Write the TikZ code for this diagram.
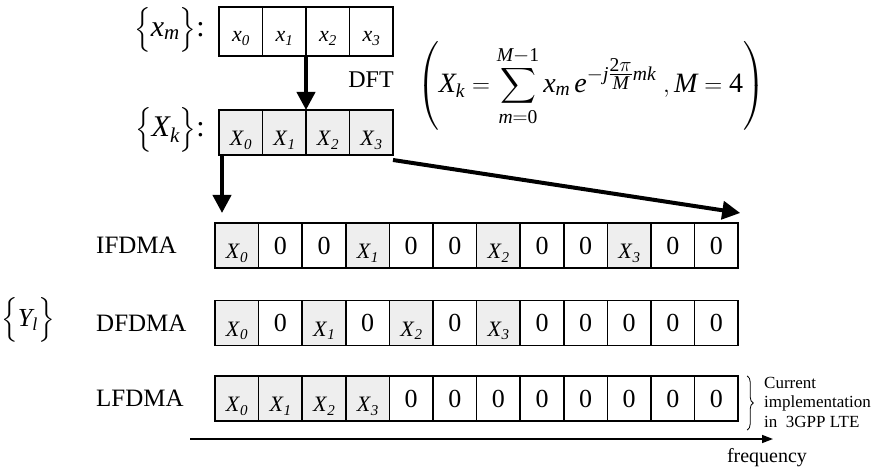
\documentclass[tikz,border=0pt]{standalone}
\usepackage{amsmath}
\usepackage{fontspec}
\setmainfont{Liberation Serif}
\usetikzlibrary{arrows.meta,decorations.pathreplacing}
\definecolor{cellgray}{HTML}{EEEEEE}
\newcommand\mi[1]{\textit{#1}}
\newcommand\nd[1]{\textup{#1}}
\newcommand\Xc[1]{\raisebox{-13pt}[0pt][0pt]{\fontsize{22}{22}\selectfont\textit{X}\raisebox{-0.35ex}{\fontsize{15}{15}\selectfont\textit{#1}}}}
\newcommand\xc[1]{\raisebox{-10pt}[0pt][0pt]{\fontsize{22}{22}\selectfont\textit{x}\raisebox{-0.35ex}{\fontsize{15}{15}\selectfont\textit{#1}}}}
\begin{document}
\begin{tikzpicture}[x=1pt,y=-1pt,
  cell/.style={draw,line width=1.5pt,minimum width=43.6pt,minimum height=45pt,inner sep=0pt,outer sep=0pt,font=\fontsize{26}{26}\selectfont},
  gcell/.style={cell,fill=cellgray},
  wcell/.style={cell,fill=white},
  topcell/.style={cell,minimum width=43.5pt,minimum height=49pt},
  lab/.style={font=\fontsize{25}{25}\selectfont,anchor=west,inner sep=0pt},
  bigarrow/.style={line width=4pt,-{Triangle[length=18pt,width=18pt]}},
  axis/.style={line width=1.5pt,-{Triangle[length=11pt,width=8pt]}}]
\useasboundingbox (0,0) rectangle (880,470);
% top rows
\foreach \c [count=\i from 0] in {\xc{0},\xc{1},\xc{2},\xc{3}}
  \node[topcell,fill=white] (t\i) at ({240.75+43.5*\i},31.5) {\c};
\foreach \c [count=\i from 0] in {\Xc{0},\Xc{1},\Xc{2},\Xc{3}}
  \node[topcell,fill=cellgray,minimum height=45pt] (T\i) at ({240.75+43.5*\i},132.5) {\c};
\node[anchor=east,inner sep=0pt] (xmlab) at (205,30) {\fontsize{30}{30}\selectfont $\Bigl\{\mi{x}_{\mi{m}}\Bigr\}$:};
\node[anchor=east,inner sep=0pt] (Xklab) at (205,130) {\fontsize{30}{30}\selectfont $\Bigl\{\mi{X}_{\mi{k}}\Bigr\}$:};
\draw[bigarrow] (t1.south east) -- (T1.north east);
\node[font=\fontsize{24}{24}\selectfont] (dft) at (371,80) {DFT};
\node (formula) at (591,86) {\fontsize{28}{28}\selectfont $\displaystyle\left( \mi{X}_{\mi{k}}=\sum_{\mi{m}=\nd{0}}^{\mi{M}-\nd{1}} \mi{x}_{\mi{m}}\,\mi{e}^{-\mi{j}\genfrac{}{}{}{1}{\nd{2}\pi}{\mi{M}}\mi{mk}}\;, \mi{M}=\nd{4}\right)$};
% lower rows
\foreach \f/\c [count=\i from 0] in {gcell/\Xc{0},wcell/0,wcell/0,gcell/\Xc{1},wcell/0,wcell/0,gcell/\Xc{2},wcell/0,wcell/0,gcell/\Xc{3},wcell/0,wcell/0}
  \node[\f] (I\i) at ({236.8+43.6*\i},245.5) {\c};
\foreach \f/\c [count=\i from 0] in {gcell/\Xc{0},wcell/0,gcell/\Xc{1},wcell/0,gcell/\Xc{2},wcell/0,gcell/\Xc{3},wcell/0,wcell/0,wcell/0,wcell/0,wcell/0}
  \node[\f] (D\i) at ({236.8+43.6*\i},323) {\c};
\foreach \f/\c [count=\i from 0] in {gcell/\Xc{0},gcell/\Xc{1},gcell/\Xc{2},gcell/\Xc{3},wcell/0,wcell/0,wcell/0,wcell/0,wcell/0,wcell/0,wcell/0,wcell/0}
  \node[\f] (L\i) at ({236.8+43.6*\i},398.5) {\c};
\node[lab] (ifdma) at (96,245.5) {IFDMA};
\node[lab] (dfdma) at (96,323) {DFDMA};
\node[lab] (lfdma) at (96,398.5) {LFDMA};
\node (ylab) at (28,320) {\fontsize{26}{28}\selectfont $\Bigl\{\mi{Y}_{\mi{l}}\Bigr\}$};
% arrows from X_k
\coordinate (a0) at ([xshift=3pt]T0.south west);
\coordinate (a1) at ([yshift=10pt]I0.north -| a0);
\draw[bigarrow] (a0) -- (a1);
\coordinate (b1) at ([xshift=2pt,yshift=10pt]I11.north east);
\draw[bigarrow] ([yshift=-5pt]T3.south east) -- (b1);
% brace and note
\coordinate (br0) at ([xshift=9pt]L11.north east);
\coordinate (br1) at ([xshift=9pt,yshift=-9pt]L11.south east);
\draw[line width=0.8pt,decorate,decoration={brace,amplitude=6pt}] (br0) -- (br1);
\node[anchor=west,align=left,inner sep=0pt,font=\fontsize{17}{19.5}\selectfont] (note) at (764,402) {Current\\implementation\\in \ 3GPP LTE};
% frequency axis
\coordinate (f0) at (190,439);
\coordinate (f1) at (773,439);
\draw[axis] (f0) -- (f1);
\node[font=\fontsize{20}{20}\selectfont] (freq) at (767,458) {frequency};
\end{tikzpicture}
\end{document}
